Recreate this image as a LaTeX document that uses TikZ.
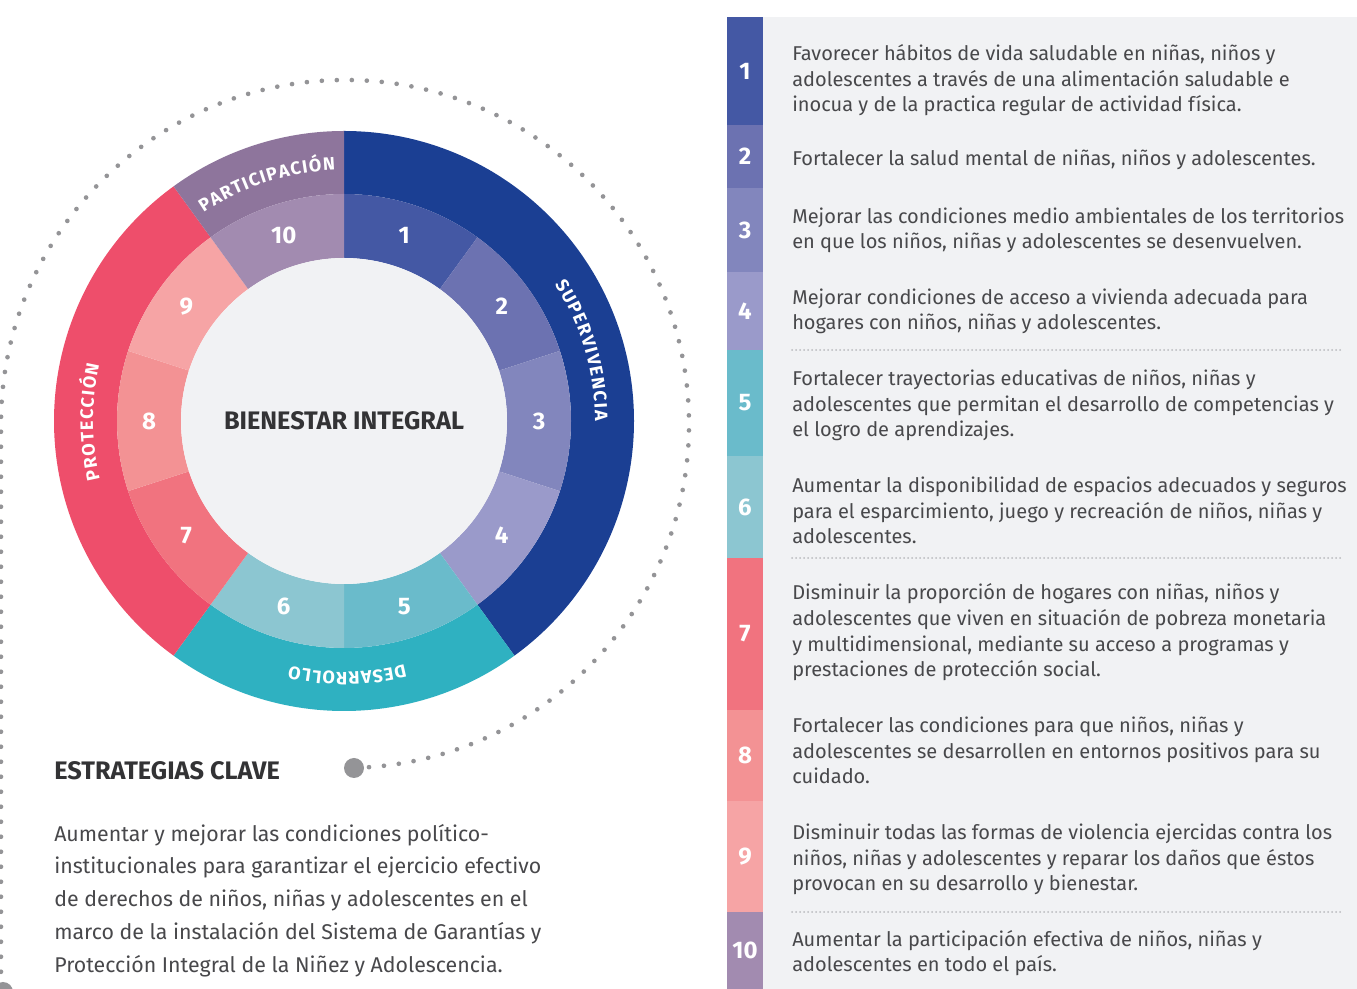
\documentclass[tikz,border=0pt]{standalone}
\usepackage{fontspec}
\setmainfont{Fira Sans}
\usetikzlibrary{decorations.text}

\definecolor{supcol}{HTML}{1B3F93}
\definecolor{parcol}{HTML}{8E759C}
\definecolor{procol}{HTML}{EE4E6B}
\definecolor{descol}{HTML}{2FB1C1}
\definecolor{s1}{HTML}{4458A4}
\definecolor{s2}{HTML}{6C72B1}
\definecolor{s3}{HTML}{8286BD}
\definecolor{s4}{HTML}{9A9ACA}
\definecolor{s5}{HTML}{6ABBCB}
\definecolor{s6}{HTML}{8CC6D1}
\definecolor{s7}{HTML}{F1737F}
\definecolor{s8}{HTML}{F39294}
\definecolor{s9}{HTML}{F6A4A5}
\definecolor{s10}{HTML}{A28BB0}
\definecolor{panel}{HTML}{F1F2F4}
\definecolor{txt}{HTML}{48484B}
\definecolor{dark}{HTML}{333335}
\definecolor{dots}{HTML}{949497}
\definecolor{sepgrey}{HTML}{BABBBE}

\newcommand\ringfont{\bfseries\fontsize{13.5}{13.5}\selectfont}

\tikzset{
	num/.style={text=white, font=\bfseries\fontsize{18}{18}\selectfont, inner sep=0pt},
	item/.style={anchor=base west, align=left, text=txt, inner sep=0pt, font=\fontsize{15}{19.3}\selectfont},
	ringtext/.style={decorate, decoration={text along path, text align=fit to path, text color=white, text={|\ringfont|#1}}},
	dotline/.style={draw=dots, line width=3.5pt, line cap=round, dash pattern=on 0pt off 11.25pt},
	sepline/.style={draw=sepgrey, line width=1.5pt, line cap=round, dash pattern=on 0pt off 3pt},
	bigdot/.style={circle, fill=dots, minimum size=15pt, inner sep=0pt},
}

\begin{document}
\begin{tikzpicture}[x=0.75pt, y=0.75pt]
	\useasboundingbox (0,0) rectangle (1357,989);
	\fill[white] (0,0) rectangle (1357,989);
	
	% tabla de la derecha
	\fill[panel] (763,0) rectangle (1357,972);
	\foreach \i/\ya/\yb in {1/972/864, 2/864/801, 3/801/717, 4/717/639, 5/639/533, 6/533/431, 7/431/279, 8/279/188, 9/188/77, 10/77/0}{
		\fill[s\i] (727,\yb) rectangle (763,\ya);
		\node[num] (k\i) at (745,{(\ya+\yb)/2}) {\i};
	}
	\foreach \y in {639,431,77}
		\draw[sepline] (792,\y) -- (1341,\y);
	
	% (base = ultima linea)
	\node[item] (t1) at (792,877) {Favorecer hábitos de vida saludable en niñas, niños y\\adolescentes a través de una alimentación saludable e\\inocua y de la practica regular de actividad física.};
	\node[item] (t2) at (792,823) {Fortalecer la salud mental de niñas, niños y adolescentes.};
	\node[item] (t3) at (792,740) {Mejorar las condiciones medio ambientales de los territorios\\en que los niños, niñas y adolescentes se desenvuelven.};
	\node[item] (t4) at (792,659) {Mejorar condiciones de acceso a vivienda adecuada para\\hogares con niños, niñas y adolescentes.};
	\node[item] (t5) at (792,552) {Fortalecer trayectorias educativas de niños, niñas y\\adolescentes que permitan el desarrollo de competencias y\\el logro de aprendizajes.};
	\node[item] (t6) at (792,445) {Aumentar la disponibilidad de espacios adecuados y seguros\\para el esparcimiento, juego y recreación de niños, niñas y\\adolescentes.};
	\node[item] (t7) at (792,312) {Disminuir la proporción de hogares con niñas, niños y\\adolescentes que viven en situación de pobreza monetaria\\y multidimensional, mediante su acceso a programas y\\prestaciones de protección social.};
	\node[item] (t8) at (792,205) {Fortalecer las condiciones para que niños, niñas y\\adolescentes se desarrollen en entornos positivos para su\\cuidado.};
	\node[item] (t9) at (792,98) {Disminuir todas las formas de violencia ejercidas contra los\\niños, niñas y adolescentes y reparar los daños que éstos\\provocan en su desarrollo y bienestar.};
	\node[item] (t10) at (792,17) {Aumentar la participación efectiva de niños, niñas y\\adolescentes en todo el país.};
	
	% estrategias clave
	\node[anchor=base west, inner sep=0pt, text=dark, font=\bfseries\fontsize{19}{19}\selectfont] (clave) at (54,209) {ESTRATEGIAS CLAVE};
	\node[anchor=base west, align=left, inner sep=0pt, text=txt, font=\fontsize{16}{24.75}\selectfont] (estrategia) at (54,16) {Aumentar y mejorar las condiciones político-\\institucionales para garantizar el ejercicio efectivo\\de derechos de niños, niñas y adolescentes en el\\marco de la instalación del Sistema de Garantías y\\Protección Integral de la Niñez y Adolescencia.};
	
	% rueda
	\begin{scope}[shift={(344,568)}]
		\fill[supcol] (90:290) arc (90:-54:290) -- (-54:227) arc (-54:90:227) -- cycle;
		\fill[descol] (-54:290) arc (-54:-126:290) -- (-126:227) arc (-126:-54:227) -- cycle;
		\fill[procol] (-126:290) arc (-126:-234:290) -- (-234:227) arc (-234:-126:227) -- cycle;
		\fill[parcol] (126:290) arc (126:90:290) -- (90:227) arc (90:126:227) -- cycle;
		
		\foreach \i [evaluate=\i as \a using 126-36*\i, evaluate=\i as \b using 90-36*\i] in {1,...,10}
			\fill[s\i] (\a:227) arc (\a:\b:227) -- (\b:163) arc (\b:\a:163) -- cycle;
		\foreach \i in {1,...,10}
			\node[num] (seg\i) at ({108-36*\i}:195) {\i};
		
		\node[circle, fill=panel, minimum size=244.5pt, inner sep=0pt, text=dark, font=\bfseries\fontsize{19}{19}\selectfont] (centro) at (0,0) {BIENESTAR INTEGRAL};
		
		\path[ringtext=PARTICIPACIÓN] (124:251) arc (124:92:251);
		\path[ringtext=SUPERVIVENCIA] (33:251) arc (33:0:251);
		\path[ringtext=PROTECCIÓN] (193.5:251) arc (193.5:167:251);
		\path[ringtext=DESARROLLO] (-76:251) arc (-76:-102.5:251);
		
		% circulo punteado
		\draw[dotline] (1,-3) ++(-86:344) arc (-86:180:344) -- ++(0,-600);
	\end{scope}
	\node[bigdot] (dotA) at (354,221) {};
	\node[bigdot] (dotB) at (3,-3) {};
	
\end{tikzpicture}
\end{document}
